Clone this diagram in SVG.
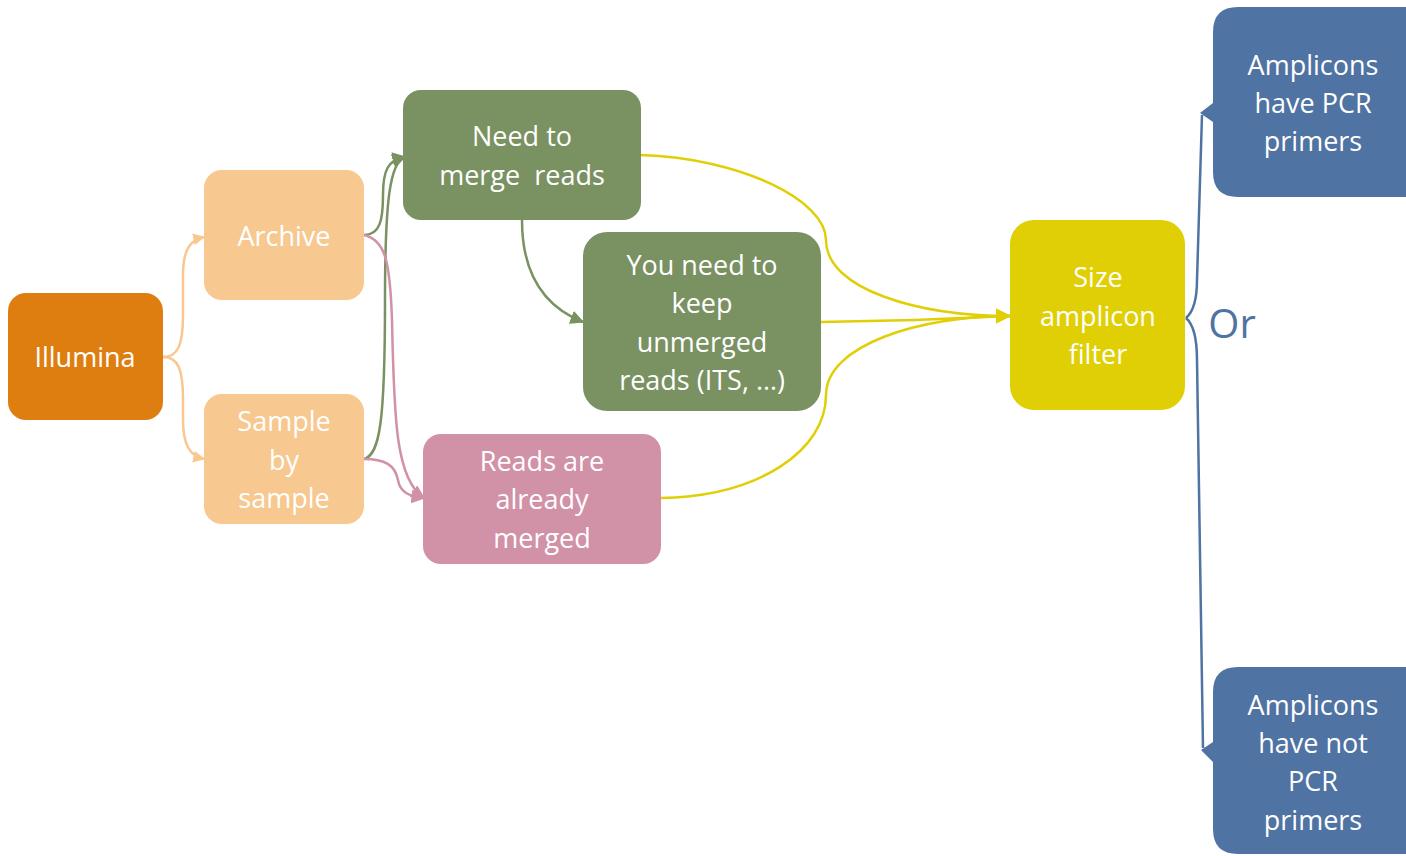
<svg xmlns="http://www.w3.org/2000/svg" width="1406" height="856" viewBox="0 0 1406 856">
<defs>
<style>
text{font-family:"Open Sans","Noto Sans",sans-serif;font-size:27px;fill:#ffffff;text-anchor:middle}
.c{fill:none;stroke-width:2.5}
.peach{stroke:#F7C890}
.green{stroke:#7A9162}
.pink{stroke:#D191A6}
.yellow{stroke:#E0CF05}
.blue{stroke:#4F73A2}
</style>
<marker id="aPeach" viewBox="0 0 10 10" refX="9" refY="5" markerWidth="12" markerHeight="12" markerUnits="userSpaceOnUse" orient="auto"><path d="M0,0L10,5L0,10z" fill="#F7C890"/></marker>
<marker id="aGreen" viewBox="0 0 10 10" refX="9" refY="5" markerWidth="14" markerHeight="14" markerUnits="userSpaceOnUse" orient="auto"><path d="M0,0L10,5L0,10z" fill="#7A9162"/></marker>
<marker id="aPink" viewBox="0 0 10 10" refX="9" refY="5" markerWidth="14" markerHeight="14" markerUnits="userSpaceOnUse" orient="auto"><path d="M0,0L10,5L0,10z" fill="#D191A6"/></marker>
<marker id="aYellow" viewBox="0 0 10 10" refX="9" refY="5" markerWidth="16" markerHeight="16" markerUnits="userSpaceOnUse" orient="auto"><path d="M0,0L10,5L0,10z" fill="#E0CF05"/></marker>
</defs>
<rect width="1406" height="856" fill="#ffffff"/>
<g id="connectors">
<path class="c peach" d="M163,357 C178,357 183,345 183,315 L183,275 C183,250 190,240 204,237" marker-end="url(#aPeach)"/>
<path class="c peach" d="M163,357 C178,357 183,369 183,399 L183,420 C183,445 190,456 204,459" marker-end="url(#aPeach)"/>
<path class="c green" d="M364,235 C380,235 383,220 383,195 C383,170 388,160 405,157" marker-end="url(#aGreen)"/>
<path class="c green" d="M364,459 C380,455 385,420 385,300 C385,200 390,162 405,157" marker-end="url(#aGreen)"/>
<path class="c pink" d="M364,235 C385,240 390,260 392,320 C394,420 396,480 424,498" marker-end="url(#aPink)"/>
<path class="c pink" d="M364,459 C385,459 395,465 398,480 C400,492 408,496 424,498" marker-end="url(#aPink)"/>
<path class="c green" d="M522,220 C522,270 540,305 583,322" marker-end="url(#aGreen)"/>
<path class="c yellow" d="M641,155 C740,158 826,200 826,240 C826,290 920,316 1010,316"/>
<path class="c yellow" d="M821,322 L915,320 L1010,316"/>
<path class="c yellow" d="M661,498 C760,496 826,450 826,395 C826,345 920,316 1010,316" marker-end="url(#aYellow)"/>
<path class="c blue" d="M1186,318 C1193,312 1197,300 1197,280 L1202,115"/>
<path class="c blue" d="M1186,318 C1193,324 1197,336 1197,360 L1203,748"/>
</g>
<g id="illumina">
<rect x="8" y="293" width="155" height="127" rx="18" fill="#DF7E10"/>
<text x="85" y="367">Illumina</text>
</g>
<g id="archive">
<rect x="204" y="170" width="160" height="130" rx="18" fill="#F7C890"/>
<text x="284" y="246">Archive</text>
</g>
<g id="sample">
<rect x="204" y="394" width="160" height="130" rx="18" fill="#F7C890"/>
<text x="284" y="431">Sample</text>
<text x="284" y="470">by</text>
<text x="284" y="508">sample</text>
</g>
<g id="merge">
<rect x="403" y="90" width="238" height="130" rx="18" fill="#7A9162"/>
<text x="522" y="146">Need to</text>
<text x="522" y="185" xml:space="preserve">merge  reads</text>
</g>
<g id="keep">
<rect x="583" y="232" width="238" height="179" rx="24" fill="#7A9162"/>
<text x="702" y="275">You need to</text>
<text x="702" y="313">keep</text>
<text x="702" y="352">unmerged</text>
<text x="702" y="390">reads (ITS, …)</text>
</g>
<g id="merged">
<rect x="423" y="434" width="238" height="130" rx="18" fill="#D191A6"/>
<text x="542" y="471">Reads are</text>
<text x="542" y="509">already</text>
<text x="542" y="548">merged</text>
</g>
<g id="size">
<rect x="1010" y="220" width="175" height="190" rx="24" fill="#E0CF05"/>
<text x="1098" y="287">Size</text>
<text x="1098" y="326">amplicon</text>
<text x="1098" y="364">filter</text>
</g>
<g id="or">
<text x="1232" y="338" style="font-size:40px;fill:#4F73A2">Or</text>
</g>
<g id="primers">
<path d="M1238,7 H1420 V197 H1238 Q1213,197 1213,172 V122 L1200,113 L1213,103 V32 Q1213,7 1238,7 Z" fill="#4F73A2"/>
<text x="1313" y="75">Amplicons</text>
<text x="1313" y="113">have PCR</text>
<text x="1313" y="151">primers</text>
</g>
<g id="noprimers">
<path d="M1238,667 H1420 V854 H1238 Q1213,854 1213,829 V762 L1201,750 L1213,742 V692 Q1213,667 1238,667 Z" fill="#4F73A2"/>
<text x="1313" y="715">Amplicons</text>
<text x="1313" y="753">have not</text>
<text x="1313" y="791">PCR</text>
<text x="1313" y="830">primers</text>
</g>
</svg>
